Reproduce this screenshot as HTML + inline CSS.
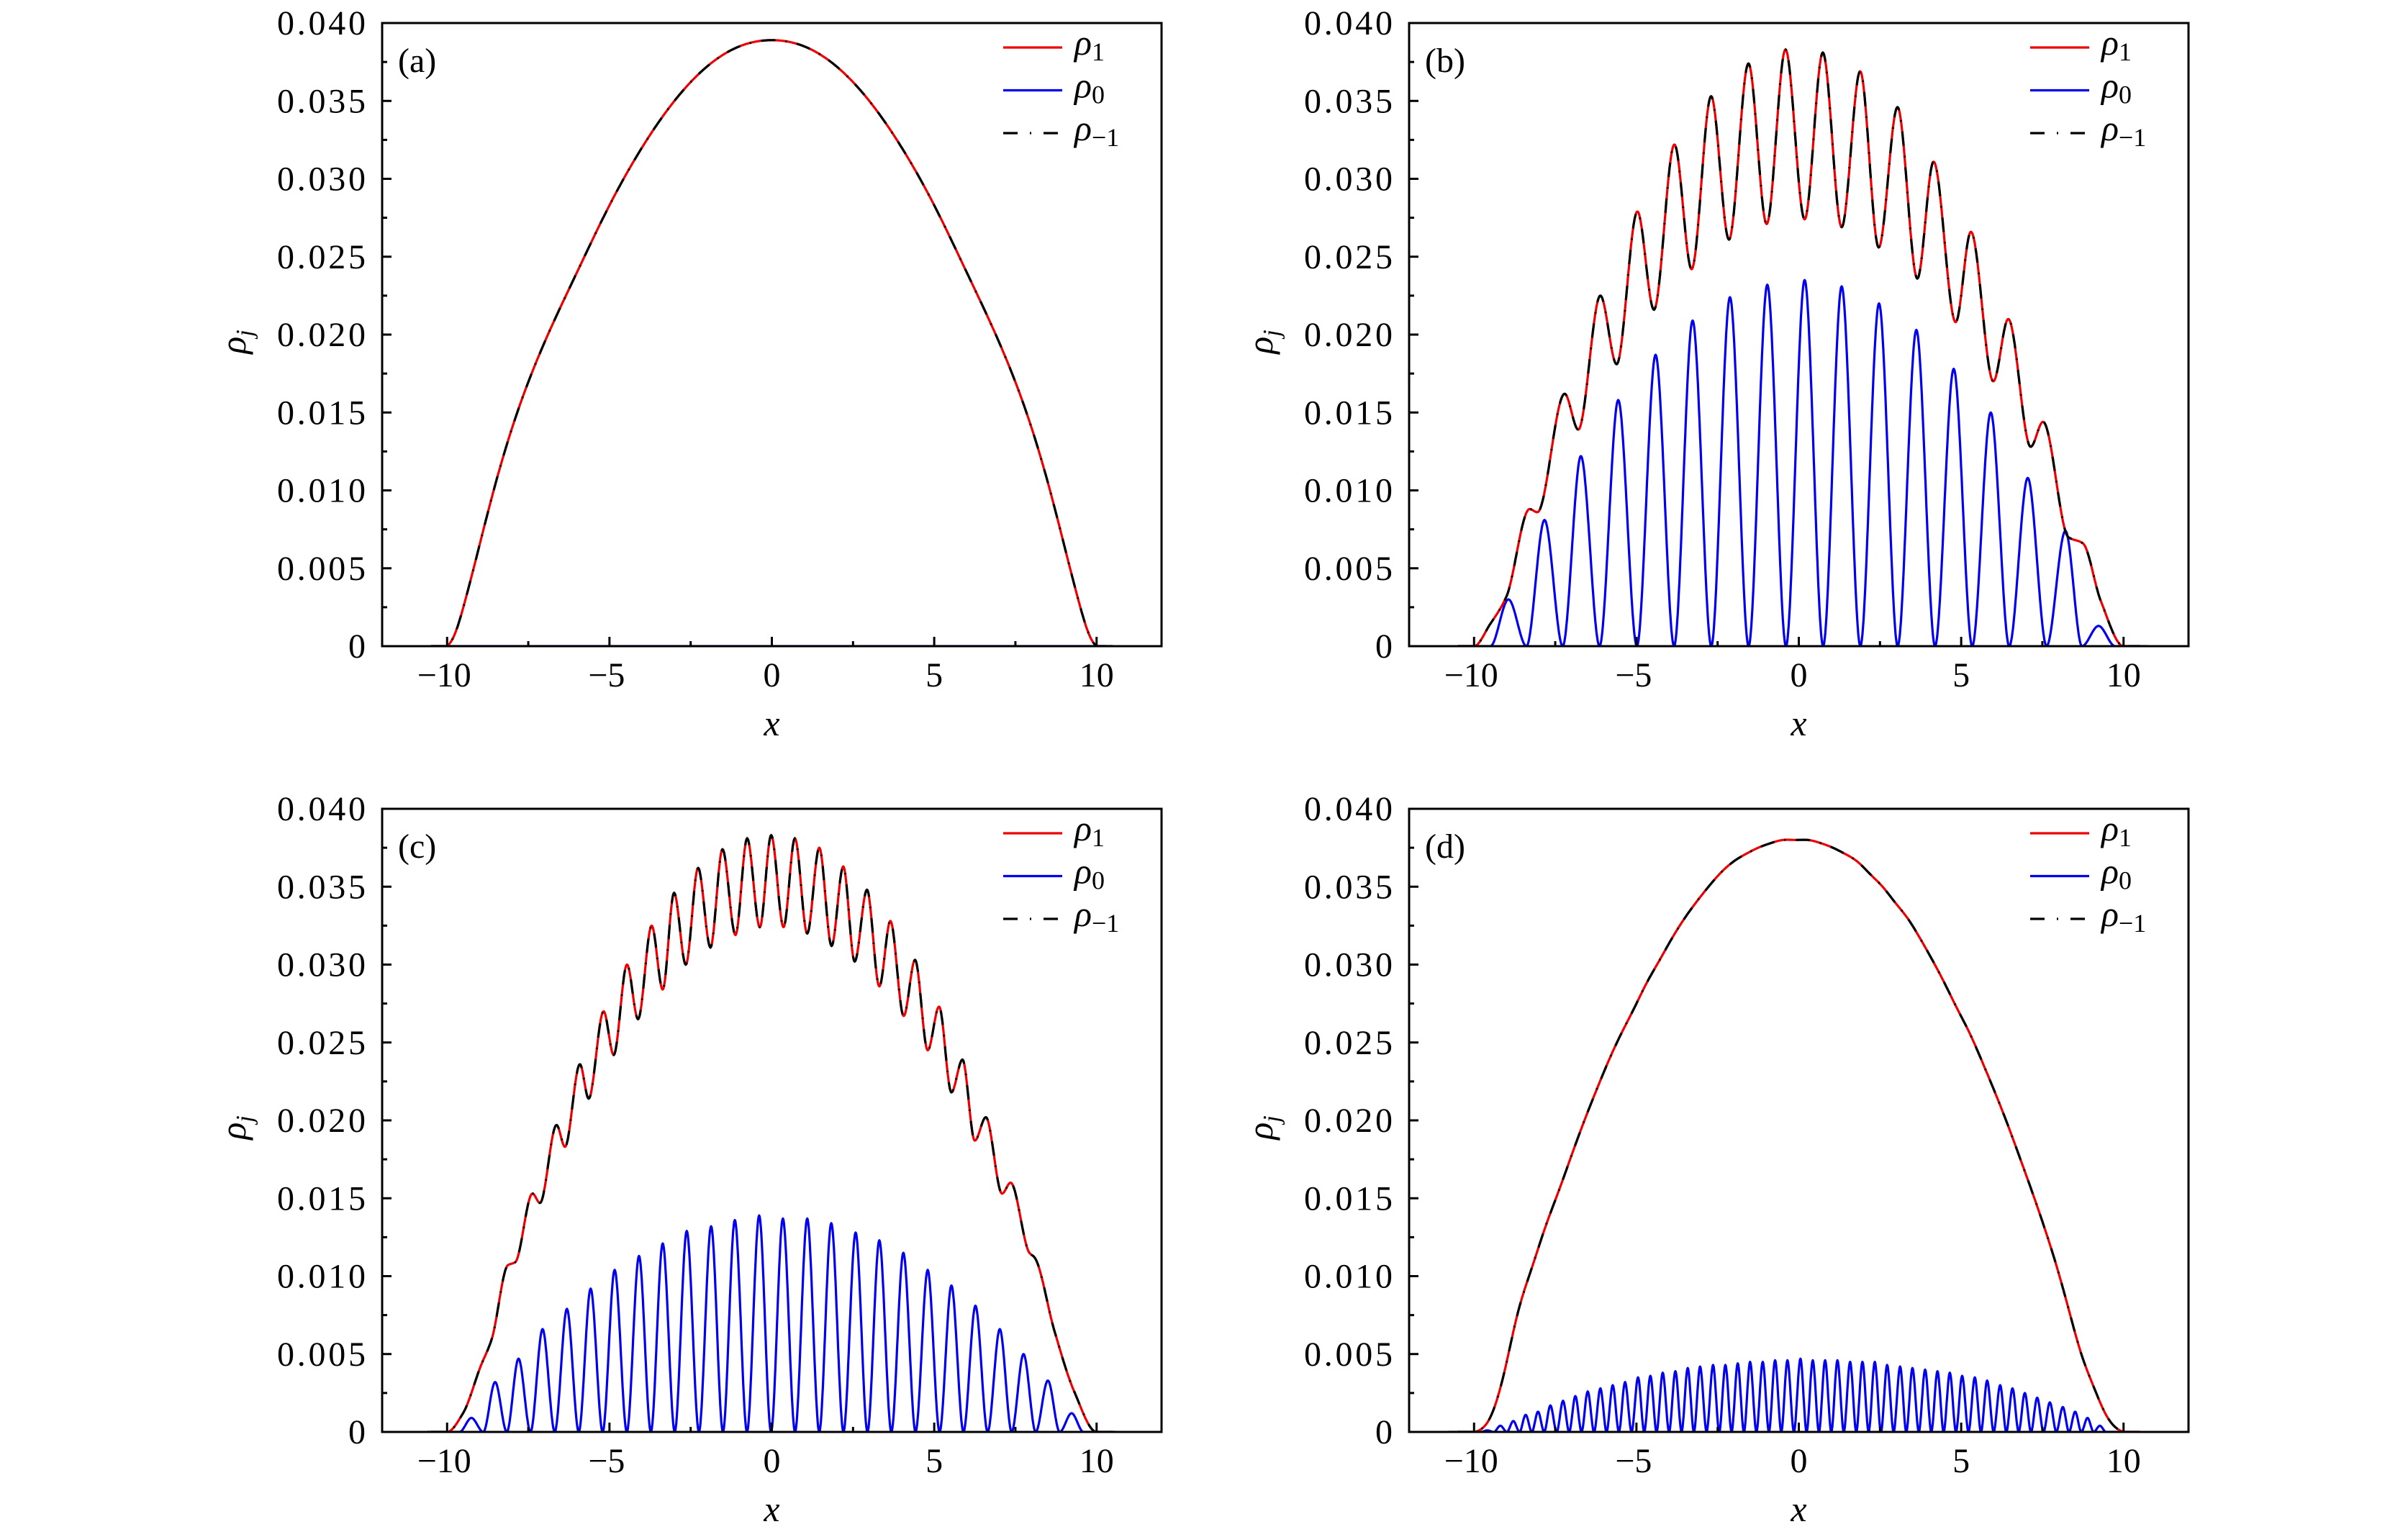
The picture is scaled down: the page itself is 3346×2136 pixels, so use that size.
<!DOCTYPE html>
<html><head><meta charset="utf-8"><style>
html,body{margin:0;padding:0;background:#fff;}
svg{display:block;}
text{font-family:"Liberation Serif","DejaVu Serif",serif;fill:#000;}
</style></head><body>
<svg id="fig" width="3346" height="2136" viewBox="0 0 3346 2136" xmlns="http://www.w3.org/2000/svg"></svg>
<script>
// ===== data =====
const xTicks = [-10, -5, 0, 5, 10];
const xTickLabels = ["\u221210", "\u22125", "0", "5", "10"];
const yTicks = [0, 0.005, 0.010, 0.015, 0.020, 0.025, 0.030, 0.035, 0.040];
const yTickLabels = ["0", "0.005", "0.010", "0.015", "0.020", "0.025", "0.030", "0.035", "0.040"];
const panelLabels = ["(a)", "(b)", "(c)", "(d)"];

// panel (a)
const aRhoX = [-10.5,-10,-9.8,-9.5,-9,-8.5,-8,-7,-6,-5,-4,-3,-2,-1,0,1,2,3,4,5,6,7,8,8.5,9,9.5,9.8,10,10.5];
const aRhoY = [0,0,0.0006,0.0025,0.0065,0.0105,0.0140,0.0195,0.0240,0.0283,0.0320,0.0350,0.0372,0.0385,0.0389,0.0385,0.0372,0.0350,0.0320,0.0283,0.0240,0.0195,0.0140,0.0105,0.0065,0.0025,0.0006,0,0];
const aRho0X = [-10.5,-9.5,9.5,10.5];
const aRho0Y = [0,0,0,0];

// panel (b)
const bRhoX = [-10.5,-10,-9.51,-9.0,-8.29,-8.05,-7.21,-6.79,-6.11,-5.61,-4.97,-4.46,-3.83,-3.30,-2.70,-2.15,-1.55,-0.99,-0.41,0.18,0.74,1.32,1.89,2.46,3.04,3.65,4.15,4.83,5.30,5.99,6.45,7.14,7.52,8.3,8.75,9.3,10,10.5];
const bRhoY = [0,0,0.0014,0.0032,0.0088,0.0086,0.0162,0.0139,0.0225,0.0181,0.0279,0.0216,0.0322,0.0242,0.0353,0.0261,0.0374,0.0271,0.0383,0.0274,0.0381,0.0269,0.0369,0.0256,0.0346,0.0236,0.0311,0.0208,0.0266,0.0170,0.0210,0.0128,0.0144,0.0070,0.0066,0.0029,0,0];
const bRho0PeakX = [-8.94,-7.83,-6.71,-5.56,-4.41,-3.27,-2.12,-0.97,0.18,1.32,2.47,3.62,4.77,5.91,7.05,8.21,9.23];
const bRho0PeakY = [0.0030,0.0081,0.0122,0.0158,0.0187,0.0209,0.0224,0.0232,0.0235,0.0231,0.0220,0.0203,0.0178,0.0150,0.0108,0.0074,0.0013];

// panel (c)
const cRhoX = [-10.5,-10,-9.51,-8.97,-8.62,-8.13,-7.90,-7.37,-7.14,-6.63,-6.37,-5.91,-5.64,-5.18,-4.87,-4.46,-4.12,-3.70,-3.36,-3.01,-2.65,-2.27,-1.89,-1.52,-1.12,-0.76,-0.37,-0.02,0.36,0.71,1.09,1.46,1.84,2.20,2.55,2.93,3.31,3.65,4.06,4.41,4.80,5.15,5.53,5.87,6.25,6.59,7.09,7.35,7.93,8.09,8.70,9.31,10,10.5];
const cRhoY = [0,0,0.0012,0.0042,0.0060,0.0107,0.0109,0.0153,0.0147,0.0197,0.0183,0.0236,0.0214,0.0270,0.0242,0.0300,0.0265,0.0325,0.0284,0.0346,0.0300,0.0362,0.0311,0.0374,0.0319,0.0381,0.0324,0.0383,0.0324,0.0381,0.0320,0.0375,0.0312,0.0363,0.0302,0.0348,0.0286,0.0328,0.0267,0.0303,0.0245,0.0273,0.0218,0.0239,0.0187,0.0202,0.0153,0.0160,0.0115,0.0112,0.0065,0.0026,0,0];
const cRho0PeakX = [-9.25,-8.52,-7.80,-7.06,-6.31,-5.58,-4.84,-4.09,-3.36,-2.62,-1.87,-1.14,-0.39,0.34,1.09,1.83,2.58,3.31,4.05,4.80,5.53,6.27,7.02,7.75,8.50,9.23];
const cRho0PeakY = [0.0009,0.0032,0.0047,0.0066,0.0079,0.0092,0.0104,0.0113,0.0121,0.0129,0.0132,0.0136,0.0139,0.0137,0.0137,0.0134,0.0128,0.0123,0.0115,0.0104,0.0094,0.0081,0.0066,0.0050,0.0033,0.0012];

// panel (d)
const dRhoX = [-10.5,-10,-9.51,-9.05,-8.67,-8.21,-7.83,-7.37,-6.99,-6.6,-6.22,-5.84,-5.46,-5.07,-4.69,-4.31,-3.93,-3.54,-3.16,-2.78,-2.40,-2.02,-1.63,-1.25,-0.86,-0.48,-0.1,0.28,0.67,1.05,1.43,1.81,2.2,2.58,2.96,3.34,3.73,4.11,4.49,4.87,5.26,5.64,6.02,6.4,6.79,7.17,7.55,7.93,8.32,8.7,9.08,9.46,10,10.5];
const dRhoY = [0,0,0.0009,0.0040,0.0075,0.0106,0.0130,0.0156,0.0178,0.0200,0.0220,0.0239,0.0256,0.0272,0.0288,0.0302,0.0316,0.0329,0.0340,0.0350,0.0359,0.0366,0.0371,0.0375,0.0378,0.0380,0.0380,0.0380,0.0378,0.0375,0.0371,0.0366,0.0358,0.0350,0.0340,0.0330,0.0317,0.0303,0.0288,0.0272,0.0256,0.0238,0.0219,0.0199,0.0177,0.0155,0.0132,0.0107,0.0078,0.0050,0.0029,0.0011,0,0];
const dRho0PeakX = [-9.59,-9.19,-8.79,-8.41,-8.03,-7.65,-7.26,-6.88,-6.50,-6.11,-5.73,-5.35,-4.95,-4.57,-4.19,-3.80,-3.42,-3.04,-2.64,-2.26,-1.88,-1.50,-1.11,-0.73,-0.35,0.05,0.43,0.81,1.19,1.58,1.96,2.34,2.72,3.12,3.50,3.89,4.27,4.65,5.03,5.42,5.80,6.20,6.58,6.96,7.34,7.73,8.13,8.51,8.89,9.27];
const dRho0PeakY = [0.0001,0.0004,0.0007,0.0011,0.0013,0.0017,0.0020,0.0023,0.0026,0.0028,0.0030,0.0032,0.0035,0.0036,0.0038,0.0039,0.0041,0.0042,0.0043,0.0043,0.0044,0.0045,0.0045,0.0046,0.0046,0.0047,0.0046,0.0046,0.0046,0.0045,0.0045,0.0045,0.0043,0.0042,0.0041,0.0040,0.0039,0.0038,0.0036,0.0035,0.0033,0.0030,0.0028,0.0025,0.0022,0.0019,0.0016,0.0013,0.0009,0.0004];

// ===== rendering =====
const NS = "http://www.w3.org/2000/svg";
const svg = document.getElementById("fig");
function mk(tag, attrs, parent) {
  const e = document.createElementNS(NS, tag);
  for (const k in attrs) e.setAttribute(k, attrs[k]);
  (parent || svg).appendChild(e);
  return e;
}
function monotone(xs, ys) {
  const n = xs.length, d = [], m = new Array(n);
  for (let i = 0; i < n - 1; i++) d.push((ys[i+1]-ys[i])/(xs[i+1]-xs[i]));
  m[0] = d[0]; m[n-1] = d[n-2];
  for (let i = 1; i < n - 1; i++) {
    if (d[i-1]*d[i] <= 0) m[i] = 0;
    else { const w1 = 2*(xs[i+1]-xs[i]) + (xs[i]-xs[i-1]), w2 = (xs[i+1]-xs[i]) + 2*(xs[i]-xs[i-1]);
      m[i] = (w1+w2)/(w1/d[i-1] + w2/d[i]); }
  }
  return hermite(xs, ys, m);
}
function natural(xs, ys) {
  const n = xs.length, h = [], a = new Array(n).fill(0), b = new Array(n).fill(0), c = new Array(n).fill(0), r = new Array(n).fill(0);
  for (let i = 0; i < n-1; i++) h.push(xs[i+1]-xs[i]);
  b[0] = 1; b[n-1] = 1;
  for (let i = 1; i < n-1; i++) {
    a[i] = h[i-1]; b[i] = 2*(h[i-1]+h[i]); c[i] = h[i];
    r[i] = 6*((ys[i+1]-ys[i])/h[i] - (ys[i]-ys[i-1])/h[i-1]);
  }
  for (let i = 1; i < n; i++) { const w = a[i]/b[i-1]; b[i] -= w*c[i-1]; r[i] -= w*r[i-1]; }
  const M = new Array(n).fill(0);
  M[n-1] = r[n-1]/b[n-1];
  for (let i = n-2; i >= 0; i--) M[i] = (r[i]-c[i]*M[i+1])/b[i];
  const out = [];
  for (let i = 0; i < n-1; i++) {
    const steps = Math.max(4, Math.ceil(h[i]*60));
    for (let s = 0; s < steps; s++) {
      const t = s/steps, x = xs[i] + t*h[i], A = 1-t, B = t;
      let y = A*ys[i] + B*ys[i+1] + ((A*A*A-A)*M[i] + (B*B*B-B)*M[i+1])*h[i]*h[i]/6;
      out.push([x, Math.max(0, y)]);
    }
  }
  out.push([xs[n-1], ys[n-1]]);
  return out;
}
function hermite(xs, ys, m) {
  const n = xs.length, out = [];
  for (let i = 0; i < n - 1; i++) {
    const h = xs[i+1]-xs[i], steps = Math.max(4, Math.ceil(h*60));
    for (let s = 0; s < steps; s++) {
      const t = s/steps, t2 = t*t, t3 = t2*t;
      const y = (2*t3-3*t2+1)*ys[i] + (t3-2*t2+t)*h*m[i] + (-2*t3+3*t2)*ys[i+1] + (t3-t2)*h*m[i+1];
      out.push([xs[i]+t*h, y]);
    }
  }
  out.push([xs[n-1], ys[n-1]]);
  return out;
}
function lobes(px, py) {
  const xs = [], ys = [];
  const n = px.length;
  const first = px[0] - (px[1]-px[0])/2;
  xs.push(first - 1); ys.push(0);
  xs.push(first); ys.push(0);
  for (let i = 0; i < n; i++) {
    xs.push(px[i]); ys.push(py[i]);
    const nxt = i < n-1 ? (px[i]+px[i+1])/2 : px[i] + (px[i]-px[i-1])/2;
    xs.push(nxt); ys.push(0);
  }
  xs.push(xs[xs.length-1] + 1); ys.push(0);
  return [xs, ys];
}

const panels = [
  {L:531, T:32, key:"a", rx:aRhoX, ry:aRhoY, smooth:true, b:[aRho0X, aRho0Y]},
  {L:1958, T:32, key:"b", rx:bRhoX, ry:bRhoY, smooth:false, b:lobes(bRho0PeakX, bRho0PeakY)},
  {L:531, T:1124, key:"c", rx:cRhoX, ry:cRhoY, smooth:false, b:lobes(cRho0PeakX, cRho0PeakY)},
  {L:1958, T:1124, key:"d", rx:dRhoX, ry:dRhoY, smooth:true, b:lobes(dRho0PeakX, dRho0PeakY)}
];
const W = 1083, H = 866;

panels.forEach((p, idx) => {
  const g = mk("g", {});
  
  
  const X = x => p.L + (x + 12) / 24 * W;
  const Y = y => p.T + H - y / 0.040 * H;
  const clipId = "clip" + p.key;
  const cp = mk("clipPath", {id: clipId}, g);
  mk("rect", {x:p.L, y:p.T, width:W, height:H}, cp);
  const plot = mk("g", {"clip-path":"url(#"+clipId+")"}, g);
  const toPath = pts => pts.map((q,i)=>(i?"L":"M")+X(q[0]).toFixed(1)+","+Y(q[1]).toFixed(1)).join("");
  const red = p.smooth ? natural(p.rx, p.ry) : monotone(p.rx, p.ry);
  const blue = monotone(p.b[0], p.b[1]);
  const bl = mk("path", {d:toPath(blue), fill:"none", stroke:"#0000ee", "stroke-width":3.2, "stroke-linejoin":"round"}, plot);
  
  
  const rl = mk("path", {d:toPath(red), fill:"none", stroke:"#ee0000", "stroke-width":3.2, "stroke-linejoin":"round"}, plot);
  
  
  const kl = mk("path", {d:toPath(red), fill:"none", stroke:"#000", "stroke-width":3.2, "stroke-dasharray":"20,14,2,14"}, plot);
  
  

  const fr = mk("rect", {x:p.L, y:p.T, width:W, height:H, fill:"none", stroke:"#000", "stroke-width":3}, g);
  
  
  const xminor = [-7.5,-2.5,2.5,7.5];
  xTicks.forEach((v,i) => {
    mk("line", {x1:X(v), x2:X(v), y1:p.T+H, y2:p.T+H-13, stroke:"#000", "stroke-width":3}, g);
    const t = mk("text", {x:X(v) + (v<0 ? -4 : 0), y:p.T+H+56, "font-size":48, "text-anchor":"middle"}, g);
    t.textContent = xTickLabels[i];
    
    
  });
  xminor.forEach(v => mk("line", {x1:X(v), x2:X(v), y1:p.T+H, y2:p.T+H-7, stroke:"#000", "stroke-width":3}, g));
  yTicks.forEach((v,i) => {
    mk("line", {x1:p.L, x2:p.L+13, y1:Y(v), y2:Y(v), stroke:"#000", "stroke-width":3}, g);
    if (i < yTicks.length-1) {
      const vm = v + 0.0025;
      mk("line", {x1:p.L, x2:p.L+7, y1:Y(vm), y2:Y(vm), stroke:"#000", "stroke-width":3}, g);
    }
    const attrs = {x:p.L-23, y:Y(v)+16, "font-size":48, "text-anchor":"end"};
    if (yTickLabels[i].length === 5) attrs.textLength = 123;
    const t = mk("text", attrs, g);
    t.textContent = yTickLabels[i];
    
    
  });
  const xt = mk("text", {x:p.L+W/2, y:p.T+H+124, "font-size":50, "font-style":"italic", "text-anchor":"middle"}, g);
  xt.textContent = "x";
  
  
  const yt = mk("text", {x:0, y:0, "font-size":50, "font-style":"italic", transform:"translate("+(p.L-190)+","+(p.T+H/2+10)+") rotate(-90)", "text-anchor":"middle"}, g);
  yt.innerHTML = 'ρ<tspan font-size="34" dy="10">j</tspan>';
  
  
  const pl = mk("text", {x:p.L+22, y:p.T+68, "font-size":48}, g);
  pl.textContent = panelLabels[idx];
  
  
  const lg = mk("g", {}, g);
  
  
  const rows = [
    {c:"#ee0000", dash:null, sub:"1", name:"legend-entry-rho1"},
    {c:"#0000ee", dash:null, sub:"0", name:"legend-entry-rho0"},
    {c:"#000", dash:"20,17,2,17", sub:"\u22121", name:"legend-entry-rho-minus1"}
  ];
  rows.forEach((r,i) => {
    const yy = p.T + 34 + i*59.5;
    const eg = mk("g", {}, lg);
    
    
    const la = {x1:p.L+863, x2:p.L+945, y1:yy, y2:yy, stroke:r.c, "stroke-width":3.2};
    if (r.dash) la["stroke-dasharray"] = r.dash;
    mk("line", la, eg);
    const t = mk("text", {x:p.L+962, y:yy+10, "font-size":50, "font-style":"italic"}, eg);
    t.innerHTML = 'ρ<tspan font-size="36" font-style="normal" dy="8">' + r.sub + '</tspan>';
  });
});
</script>
</body></html>
